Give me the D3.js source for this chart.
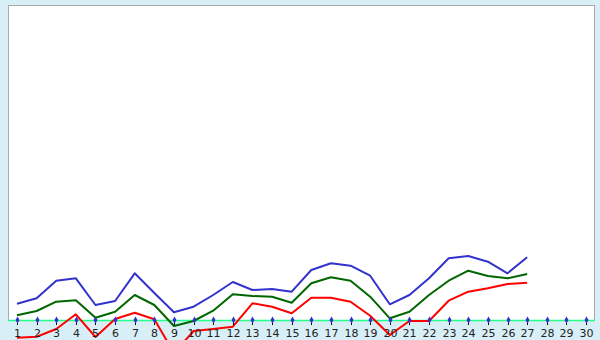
<!DOCTYPE html>
<html>
<head>
<meta charset="utf-8">
<script src="https://cdn.jsdelivr.net/npm/d3@7"></script>
<style>
  body { margin: 0; background: #d9eff7; }
  svg { display: block; }
</style>
</head>
<body>
<div id="chart"></div>
<script>
const days = d3.range(1, 31);

const blueValues = [16.3, 21.7, 39.3, 41.7, 15, 19, 46.7, 27, 7.7, 13.3, 25, 38, 30, 31, 28.3, 50, 56.7, 54.3, 44.3, 15.7, 25, 41.7, 61.7, 64, 58.3, 46.7, 62.7];
const greenValues = [4.7, 9, 18.3, 19.7, 2.3, 8.3, 25, 15, -6, -1, 9.3, 25.7, 24, 23.3, 17.3, 36.7, 42.7, 39.3, 23.3, 1.7, 8.3, 25, 39.3, 49.3, 44, 41.7, 46];
const redValues = [-17.7, -16.7, -9, 5.7, -17, 1, 7.3, 0.7, -33, -11, -9, -6.7, 16.7, 13.3, 6.7, 22.3, 22.3, 18.3, 4.3, -15, -1, -1, 19.3, 28.3, 31.7, 36, 37.3];

const series = [
    { values: blueValues, color: "#3333cc" },
    { values: greenValues, color: "#006600" },
    { values: redValues, color: "#ff0000" }
];

const width = 600, height = 340;
const plot = { left: 8, right: 595, top: 5, bottom: 320 };

const svg = d3.select("#chart").append("svg")
    .attr("width", width)
    .attr("height", height);

// plot background with grey frame
svg.append("rect")
    .attr("x", plot.left + 0.5)
    .attr("y", plot.top + 0.5)
    .attr("width", plot.right - plot.left - 1)
    .attr("height", plot.bottom - plot.top)
    .attr("fill", "#fff")
    .attr("stroke", "#aaaaaa");

const x = d3.scaleLinear()
    .domain([1, 30])
    .range([17, 586]);

const y = d3.scaleLinear()
    .domain([0, 315])
    .range([plot.bottom, plot.top]);

// baseline
svg.append("line")
    .attr("x1", plot.left)
    .attr("x2", plot.right)
    .attr("y1", y(0) + 0.5)
    .attr("y2", y(0) + 0.5)
    .attr("stroke", "#22ff88")
    .attr("stroke-width", 1.5);

const line = d3.line()
    .x((d, i) => x(days[i]))
    .y(d => y(d));

series.forEach(s => {
    svg.append("path")
        .datum(s.values)
        .attr("fill", "none")
        .attr("stroke", s.color)
        .attr("stroke-width", 2)
        .attr("stroke-linejoin", "round")
        .attr("d", line);
});

// ticks and labels
const ticks = svg.append("g")
    .selectAll("g")
    .data(days)
    .enter().append("g")
    .attr("transform", d => `translate(${Math.round(x(d)) + 0.5},0)`);

ticks.append("line")
    .attr("y1", y(0) - 2)
    .attr("y2", y(0) + 5)
    .attr("stroke", "#000")
    .attr("stroke-width", 1);

ticks.append("path")
    .attr("d", d3.symbol(d3.symbolDiamond, 14)())
    .attr("transform", `translate(0,${y(0)})`)
    .attr("fill", "#3333cc");

ticks.append("text")
    .attr("y", 337)
    .attr("text-anchor", "middle")
    .attr("font-family", "Verdana, 'DejaVu Sans', sans-serif")
    .attr("font-size", 11)
    .attr("fill", "#222")
    .text(d => d);
</script>
</body>
</html>
